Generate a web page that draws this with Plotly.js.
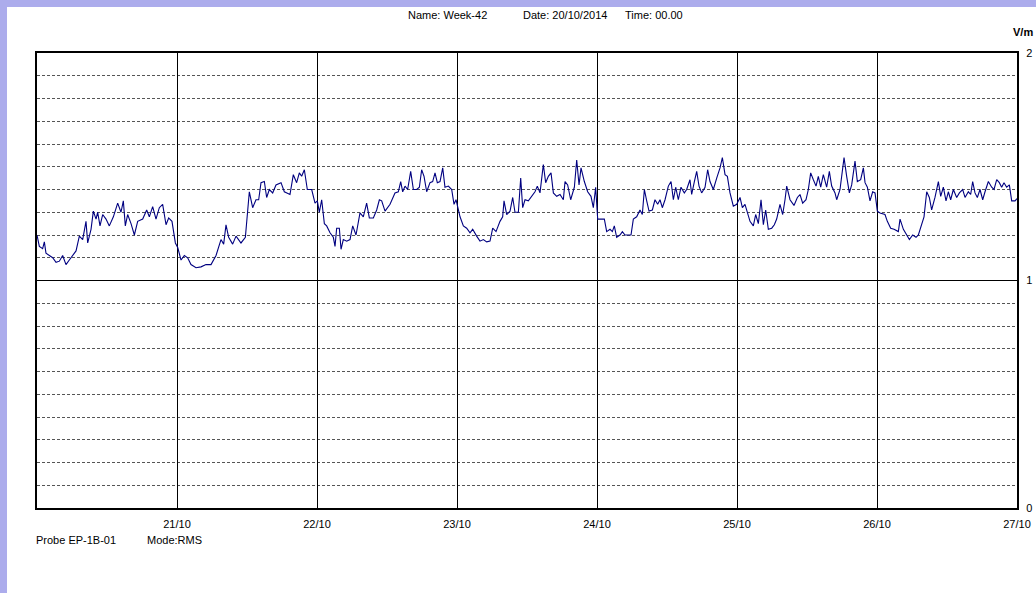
<!DOCTYPE html>
<html>
<head>
<meta charset="utf-8">
<script src="https://cdn.plot.ly/plotly-3.0.1.min.js"></script>
<style>
html,body{margin:0;padding:0;width:1036px;height:593px;overflow:hidden;background:#acacec;}
#chart{position:absolute;left:7px;top:7px;width:1029px;height:586px;background:#fff;}
</style>
</head>
<body>
<div id="chart"></div>
<script>
// hours since 20/10/2014 00:00
const hours = [
0,0.40,0.97,1.26,1.54,2.12,2.69,3.26,3.83,4.40,4.97,5.54,6.12,6.69,7.26,7.83,8.40,8.69,9.26,9.66,
10.12,10.40,10.80,11.26,11.83,12.40,13.09,13.83,14.40,14.80,15.14,15.54,16.12,16.69,17.26,18.12,18.80,19.26,19.83,20.40,
20.97,21.54,22.12,22.57,23.14,23.72,24.12,24.69,25.26,25.83,26.40,27.26,28.12,28.97,29.83,30.69,31.54,32.0,32.40,32.86,
33.54,34.12,34.97,35.72,36.40,36.97,37.54,38.0,38.40,38.97,39.37,39.83,40.40,40.97,41.83,42.40,
43.37,43.94,44.51,44.97,45.37,45.83,46.34,47.09,47.66,48.06,48.40,48.80,49.26,49.66,50.23,50.80,51.09,51.37,51.83,52.12,
52.51,53.09,53.66,54.12,54.69,55.37,55.94,56.51,56.97,57.66,58.23,58.69,59.09,59.66,60.52,61.37,61.94,62.35,62.69,63.09,
63.54,64.06,64.52,65.09,65.55,65.94,66.35,66.80,67.37,67.83,68.23,68.63,69.09,69.55,69.94,70.52,71.09,71.49,71.83,72.52,
73.09,73.66,74.23,74.69,75.37,75.94,76.52,77.09,77.66,78.12,78.69,79.37,79.83,80.06,80.52,81.09,81.55,81.94,82.52,82.92,
83.26,83.66,84.23,
84.80,85.37,85.77,86.23,86.80,87.20,87.66,88.12,88.52,89.09,89.66,90.23,90.52,90.97,91.49,92.12,92.52,92.92,93.26,93.83,
94.40,94.97,95.37,95.77,96.12,97.26,97.66,98.23,98.63,98.97,99.37,99.94,100.35,100.80,101.83,102.23,102.80,103.37,103.77,104.12,
104.52,104.92,105.49,105.94,106.40,106.80,107.20,107.66,108.23,108.69,109.09,109.49,109.94,110.40,110.97,111.37,111.94,112.23,112.69,113.09,
113.49,113.94,114.52,114.97,115.37,115.94,116.52,117.09,117.49,117.95,118.35,118.80,119.37,119.95,120.52,120.92,121.37,121.83,122.23,122.80,
123.20,123.66,124.12,124.52,124.92,125.37,125.95,126.40,
126.80,127.37,127.83,128.23,128.52,129.09,129.77,130.35,130.80,131.26,131.83,132.23,132.63,133.09,133.55,133.94,134.35,134.80,135.37,135.83,
136.23,136.80,137.09,137.66,137.95,138.35,138.80,139.26,139.66,140.23,140.63,141.20,141.66,141.95,142.35,142.80,143.26,143.66,144.06,144.52,
145.37,145.77,146.35,146.92,147.66,147.95,148.52,149.09,149.55,150.12,150.69,151.09,151.66,152.06,152.52,152.97,153.37,153.94,154.52,154.92,
155.37,155.83,156.23,156.63,157.09,157.66,158.12,158.69,159.09,159.66,160.06,160.40,160.80,161.20,161.66,162.12,162.52,163.09,163.66,164.06,
164.52,164.97,165.37,165.77,166.23,166.69,167.09,167.66,168
];
// field strength, V/m (RMS)
const vm = [
1.20,1.15,1.14,1.17,1.12,1.11,1.10,1.08,1.085,1.11,1.07,1.09,1.11,1.13,1.195,1.18,1.26,1.165,1.225,1.305,
1.27,1.30,1.24,1.29,1.27,1.24,1.28,1.34,1.30,1.35,1.24,1.29,1.25,1.20,1.26,1.27,1.31,1.28,1.325,1.27,
1.32,1.335,1.245,1.275,1.26,1.165,1.145,1.09,1.11,1.10,1.07,1.056,1.06,1.07,1.07,1.11,1.18,1.16,1.245,1.19,
1.16,1.195,1.165,1.19,1.39,1.32,1.355,1.355,1.43,1.435,1.365,1.40,1.385,1.42,1.43,1.39,
1.378,1.465,1.43,1.473,1.458,1.487,1.40,1.40,1.34,1.35,1.30,1.355,1.25,1.24,1.21,1.19,1.15,1.23,1.23,1.137,
1.18,1.173,1.18,1.24,1.20,1.297,1.28,1.34,1.275,1.275,1.31,1.355,1.35,1.305,1.335,1.385,1.39,1.435,1.39,1.415,
1.40,1.48,1.40,1.40,1.41,1.487,1.458,1.39,1.43,1.435,1.473,1.43,1.435,1.495,1.41,1.415,1.40,1.335,1.355,1.28,
1.24,1.23,1.21,1.225,1.195,1.173,1.18,1.17,1.173,1.23,1.215,1.26,1.28,1.35,1.29,1.305,1.365,1.30,1.30,1.45,
1.32,1.355,1.35,
1.37,1.39,1.415,1.385,1.51,1.43,1.458,1.473,1.385,1.37,1.378,1.355,1.435,1.42,1.355,1.41,1.53,1.42,1.495,1.435,
1.39,1.37,1.32,1.41,1.27,1.27,1.215,1.225,1.215,1.24,1.19,1.20,1.215,1.20,1.20,1.27,1.28,1.31,1.29,1.40,
1.35,1.305,1.31,1.355,1.335,1.355,1.32,1.355,1.415,1.435,1.355,1.41,1.355,1.41,1.385,1.40,1.443,1.378,1.435,1.48,
1.415,1.385,1.41,1.487,1.435,1.40,1.45,1.495,1.54,1.465,1.458,1.385,1.327,1.335,1.365,1.32,1.335,1.297,1.26,1.24,
1.29,1.25,1.355,1.245,1.31,1.225,1.23,1.245,
1.27,1.335,1.29,1.355,1.415,1.355,1.33,1.365,1.378,1.34,1.355,1.40,1.473,1.443,1.415,1.458,1.41,1.465,1.41,1.48,
1.415,1.385,1.355,1.40,1.45,1.54,1.458,1.385,1.42,1.525,1.435,1.443,1.495,1.43,1.41,1.35,1.39,1.385,1.305,1.297,
1.29,1.26,1.23,1.225,1.215,1.27,1.225,1.20,1.18,1.20,1.19,1.20,1.25,1.28,1.39,1.365,1.31,1.365,1.435,1.37,
1.41,1.35,1.39,1.355,1.40,1.365,1.385,1.40,1.365,1.39,1.378,1.435,1.385,1.365,1.40,1.355,1.39,1.435,1.41,1.40,
1.443,1.43,1.41,1.43,1.41,1.42,1.35,1.35,1.36
];
const dayTicks = [24,48,72,96,120,144,168];
const dayLabels = ['21/10','22/10','23/10','24/10','25/10','26/10','27/10'];
const yTicks = [0,1,2];
const yLabels = ['0','1','2'];

const FONT = 'Liberation Sans, Arial, sans-serif';
const data = [{
  x: hours, y: vm, type: 'scatter', mode: 'lines',
  line: {color: '#000080', width: 1.1}, hoverinfo: 'skip'
}];
const W = 980, H = 455;
const px = p => (p - 37) / W;
const py = p => (508 - p) / H;
const ann = (text, x, y) => ({text, x: px(x), y: py(y), xref: 'paper', yref: 'paper',
  xanchor: 'left', yanchor: 'middle', showarrow: false, borderpad: 0});
const layout = {
  width: 1029, height: 586,
  margin: {l: 30, r: 19, t: 46, b: 85},
  paper_bgcolor: '#ffffff', plot_bgcolor: '#ffffff',
  showlegend: false,
  font: {family: FONT, size: 11, color: '#000'},
  xaxis: {
    range: [0, 168], tickmode: 'array', tickvals: dayTicks, ticktext: dayLabels,
    showgrid: true, gridcolor: '#000', gridwidth: 1, zeroline: false,
    showline: true, linecolor: '#000', linewidth: 2, mirror: true,
    ticks: '', ticklabelstandoff: 5, tickfont: {family: FONT, size: 11, color: '#000'}
  },
  yaxis: {
    range: [0, 2], side: 'right', tickmode: 'array', tickvals: yTicks, ticktext: yLabels,
    showgrid: true, gridcolor: '#000', gridwidth: 1, zeroline: false,
    showline: true, linecolor: '#000', linewidth: 2, mirror: true,
    ticks: '', ticklabelstandoff: 5, tickfont: {family: FONT, size: 11, color: '#000'},
    minor: {dtick: 0.1, showgrid: true, gridcolor: '#555', gridwidth: 1, griddash: '3px,2px', ticks: ''}
  },
  annotations: [
    ann('Name: Week-42', 407, 15),
    ann('Date: 20/10/2014', 522, 15),
    ann('Time: 00.00', 624, 15),
    ann('<b>V/m</b>', 1012, 32),
    ann('Probe EP-1B-01', 35, 540),
    ann('Mode:RMS', 146, 540)
  ]
};
Plotly.newPlot('chart', data, layout, {staticPlot: true, displayModeBar: false});
</script>
</body>
</html>
